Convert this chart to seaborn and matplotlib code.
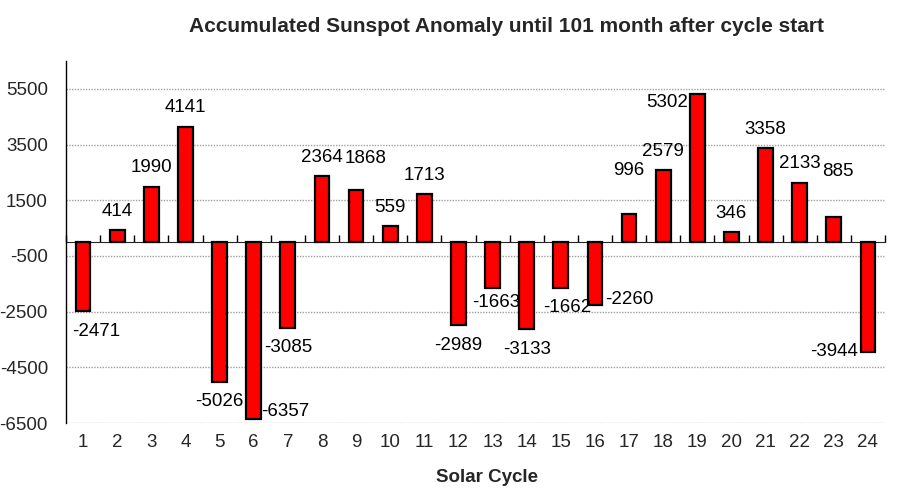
import numpy as np
import pandas as pd
import matplotlib
matplotlib.use("Agg")
import matplotlib.pyplot as plt
import seaborn as sns

# values
cycles = list(range(1, 25))
anomaly = [-2471, 414, 1990, 4141, -5026, -6357, -3085, 2364, 1868, 559,
           1713, -2989, -1663, -3133, -1662, -2260, 996, 2579, 5302, 346,
           3358, 2133, 885, -3944]
y_ticks = [-6500, -4500, -2500, -500, 1500, 3500, 5500]

df = pd.DataFrame({"cycle": cycles, "anomaly": anomaly})

sns.set_style("white")
plt.rcParams["font.family"] = ["Liberation Sans", "DejaVu Sans"]
plt.rcParams["axes.unicode_minus"] = False

fig = plt.figure(figsize=(8.98, 5.01), dpi=100)
ax = fig.add_axes([66 / 898, 1 - 423 / 501, (885 - 66) / 898, (423 - 61) / 501])

sns.barplot(data=df, x="cycle", y="anomaly", color="#ff0000", edgecolor="black",
            linewidth=1.6, width=0.43, saturation=1, ax=ax)

ymin, ymax = -6500, 6500
ax.set_ylim(ymin, ymax)
ax.set_xlim(-0.5, len(cycles) - 0.5)
ax.set_yticks(y_ticks)
ax.tick_params(axis="y", length=6, color="#a0a0a0", pad=7, labelsize=13.5)
ax.tick_params(axis="x", length=0, pad=8, labelsize=13.5)
ax.yaxis.grid(True, linestyle=(0, (1, 1)), color="#a0a0a0", linewidth=1)
for tick in ax.yaxis.get_major_ticks():
    if tick.get_loc() == 1500:
        tick.gridline.set_color("black")
        tick.tick1line.set_color("black")
ax.set_axisbelow(True)
for s in ["top", "right", "bottom"]:
    ax.spines[s].set_visible(False)
ax.spines["left"].set_color("black")
ax.spines["left"].set_linewidth(1)
ax.set_xlabel("")
ax.set_ylabel("")

# zero line with category separators
zero_ax = ax.secondary_xaxis((0 - ymin) / (ymax - ymin))
zero_ax.set_xticks(np.arange(len(cycles) + 1) - 0.5)
zero_ax.set_xticklabels([])
zero_ax.tick_params(direction="out", length=5, color="black", width=1)
zero_ax.spines["bottom"].set_color("black")
zero_ax.spines["bottom"].set_linewidth(1)

# data labels (pixel offsets from bar end, hand-placed as in the original)
offsets = {1: (13, -21), 6: (32, 8), 9: (9, 31), 13: (4, -14), 16: (34, 5),
           17: (0, 44), 19: (-30, -8), 23: (4, 46), 24: (-34, 0), 15: (6, -19)}
for i, (c, v) in enumerate(zip(cycles, anomaly)):
    dx, dy = offsets.get(c, (0, 19 if v > 0 else -20))
    ax.annotate(str(v), (i, v), xytext=(dx, dy), textcoords="offset pixels",
                ha="center", va="center", fontsize=13.5, color="black")

fig.text(507 / 898, 1 - 27 / 501, "Accumulated Sunspot Anomaly until 101 month after cycle start",
         ha="center", va="center", fontsize=15, fontweight="bold")
fig.text(487 / 898, 1 - 477 / 501, "Solar Cycle", ha="center", va="center",
         fontsize=13.5, fontweight="bold")

fig.savefig("out.png", dpi=100)
